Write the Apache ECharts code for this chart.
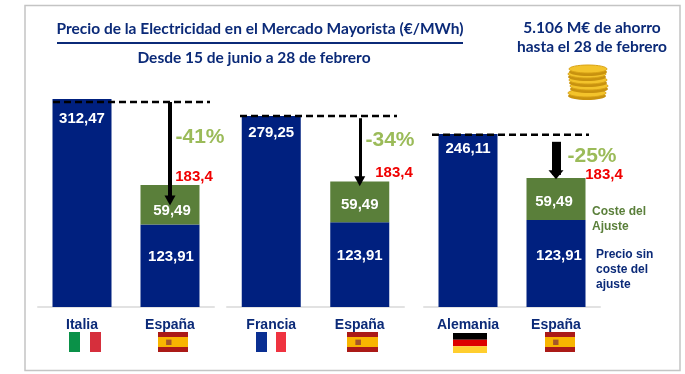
<!DOCTYPE html>
<html>
<head>
<meta charset="utf-8">
<style>
  html, body { margin: 0; padding: 0; background: #fff; }
  #chart { width: 685px; height: 374px; }
</style>
<script src="https://cdn.jsdelivr.net/npm/echarts@6/dist/echarts.min.js"></script>
</head>
<body>
<div id="chart"></div>
<script>
// datos
const paises = ['Italia', 'Francia', 'Alemania']
const preciosPais = [312.47, 279.25, 246.11]
const espanaSinAjuste = 123.91
const espanaAjuste = 59.49
const espanaTotal = '183,4'
const ahorros = ['-41%', '-34%', '-25%']
const nivelDiscontinua = [308, 279.25, 245]
const flechaDesde = [308, 276, 235]
const flechaHasta = [160, 184, 188]

const NAVY = '#00207f'
const TEXT_NAVY = '#0b2a78'
const GREEN = '#5a7f3a'
const SANS = '"Liberation Sans", Arial, sans-serif'
const TITLE = 'Lato, "Open Sans", sans-serif'

// posicion de cada panel
const paneles = [
  { left: 38, width: 176, top: 99, dash: [53, 210], arrowW: 4, head: [11, 10], pctX: 200, pctY: 137, redX: 194, redY: 177, topDist: 12, verdeOff: [2, 6], azulOff: [1, -9] },
  { left: 227, width: 177, top: 116, dash: [240, 397], arrowW: 3, head: [11, 10], pctX: 390, pctY: 140, redX: 394, redY: 173, topDist: 9, verdeOff: [0, 3], azulOff: [0, -9] },
  { left: 424, width: 176, top: 134, dash: [432, 589], arrowW: 9, head: [15, 9], pctX: 592, pctY: 156, redX: 604, redY: 175, topDist: 7, verdeOff: [-2, 3], azulOff: [3, -8] }
]
const BASE_Y = 307

const fmt = v => String(v).replace('.', ',')
const chart = echarts.init(document.getElementById('chart'))

const grids = []
const xAxes = []
const yAxes = []
const series = []
paneles.forEach((p, i) => {
  grids.push({ left: p.left, width: p.width, top: p.top, height: BASE_Y - p.top })
  xAxes.push({
    gridIndex: i,
    type: 'category',
    data: [paises[i], 'España'],
    axisTick: { show: false },
    axisLine: { lineStyle: { color: '#e2e2e2', width: 2 }},
    axisLabel: { margin: 11, color: TEXT_NAVY, fontFamily: SANS, fontWeight: 'bold', fontSize: 14 }
  })
  yAxes.push({ gridIndex: i, type: 'value', min: 0, max: preciosPais[i], show: false })
  series.push({
    type: 'bar',
    xAxisIndex: i,
    yAxisIndex: i,
    stack: 'p' + i,
    barWidth: 59,
    silent: true,
    itemStyle: { color: NAVY },
    label: { show: true, color: '#fff', fontFamily: SANS, fontWeight: 'bold', fontSize: 15, formatter: o => fmt(o.value) },
    data: [
      { value: preciosPais[i], label: { position: 'insideTop', distance: p.topDist }},
      { value: espanaSinAjuste, label: { position: 'inside', offset: p.azulOff }}
    ]
  })
  series.push({
    type: 'bar',
    xAxisIndex: i,
    yAxisIndex: i,
    stack: 'p' + i,
    barWidth: 59,
    silent: true,
    itemStyle: { color: GREEN },
    label: { show: true, position: 'inside', offset: p.verdeOff, color: '#fff', fontFamily: SANS, fontWeight: 'bold', fontSize: 15, formatter: o => fmt(o.value) },
    data: [null, espanaAjuste],
    markLine: {
      silent: true,
      z: 5,
      symbol: ['none', 'triangle'],
      symbolSize: p.head,
      label: { show: false },
      lineStyle: { color: '#000', type: 'solid', width: p.arrowW },
      data: [[
        { coord: ['España', flechaDesde[i]] },
        { coord: ['España', flechaHasta[i]] }
      ]]
    }
  })
})

const tituloStyle = { color: TEXT_NAVY, fontFamily: TITLE, fontWeight: 'bold', fontSize: 15.5 }
chart.setOption({
  animation: false,
  backgroundColor: '#fff',
  title: [
    { text: 'Precio de la Electricidad en el Mercado Mayorista (€/MWh)', left: 260, top: 21, padding: 0, textAlign: 'center', textStyle: tituloStyle },
    { text: 'Desde 15 de junio a 28 de febrero', left: 254, top: 50, padding: 0, textAlign: 'center', textStyle: tituloStyle },
    { text: '5.106 M€ de ahorro', left: 592, top: 20, padding: 0, textAlign: 'center', textStyle: tituloStyle },
    { text: 'hasta el 28 de febrero', left: 592, top: 39, padding: 0, textAlign: 'center', textStyle: tituloStyle }
  ],
  grid: grids,
  xAxis: xAxes,
  yAxis: yAxes,
  series: series
})

// ---- anotaciones ----
function rect(x, y, w, h, fill) {
  return { type: 'rect', silent: true, shape: { x: x, y: y, width: w, height: h }, style: { fill: fill }}
}
function label(x, y, text, color, size, bold, align) {
  return {
    type: 'text',
    silent: true,
    z: 10,
    x: x,
    y: y,
    style: { text: text, fill: color, font: (bold ? 'bold ' : '') + size + 'px ' + SANS, align: align || 'center', verticalAlign: 'middle' }
  }
}
function banderaEspana(x, y, w, h) {
  return [
    rect(x, y, w, h, '#ab1a17'),
    rect(x, y + h * 0.25, w, h * 0.5, '#f8b500'),
    rect(x + w * 0.27, y + h * 0.38, w * 0.18, h * 0.27, '#a4562a')
  ]
}
function tresBandas(x, y, w, h, a, b, c) {
  return [rect(x, y, w, h / 3, a), rect(x, y + h / 3, w, h / 3, b), rect(x, y + h * 2 / 3, w, h / 3, c)]
}
function moneda(cx, cy) {
  return [
    { type: 'ellipse', silent: true, shape: { cx: cx, cy: cy + 3, rx: 19, ry: 4 }, style: { fill: '#c8920f' }},
    { type: 'ellipse', silent: true, shape: { cx: cx, cy: cy, rx: 19, ry: 4 }, style: { fill: '#f3c32b', stroke: '#d9a316', lineWidth: 1 }}
  ]
}

const extras = []
// marco
extras.push({ type: 'rect', silent: true, z: -1, shape: { x: 25, y: 5.5, width: 655, height: 365 }, style: { fill: 'none', stroke: '#c4c4c4', lineWidth: 1.5 }})
// linea bajo el titulo
extras.push(rect(57, 42, 406, 2, TEXT_NAVY))
// monedas
const monedasY = [93, 86, 80, 74, 69]
const monedasX = [587, 589, 588, 587, 588]
monedasY.forEach((y, i) => { extras.push(...moneda(monedasX[i], y)) })

paneles.forEach((p, i) => {
  const y = chart.convertToPixel({ yAxisIndex: i }, nivelDiscontinua[i])
  extras.push({
    type: 'line',
    silent: true,
    z: 6,
    shape: { x1: p.dash[0], y1: y, x2: p.dash[1], y2: y },
    style: { stroke: '#000', lineWidth: 2.5, lineDash: [7, 4] }
  })
  extras.push(label(p.pctX, p.pctY, ahorros[i], '#9bbb59', 21, true))
  extras.push(label(p.redX, p.redY, espanaTotal, '#f00000', 15, true))
})

// leyenda escrita a la derecha
extras.push(label(592, 212, 'Coste del', GREEN, 12, true, 'left'))
extras.push(label(592, 227, 'Ajuste', GREEN, 12, true, 'left'))
extras.push(label(596, 255, 'Precio sin', TEXT_NAVY, 12, true, 'left'))
extras.push(label(596, 270, 'coste del', TEXT_NAVY, 12, true, 'left'))
extras.push(label(596, 285, 'ajuste', TEXT_NAVY, 12, true, 'left'))

// banderas
extras.push(rect(69, 332, 11, 20, '#0a9148'), rect(90, 332, 11, 20, '#d62f3c'))
extras.push(rect(256, 332, 11, 20, '#0a2f92'), rect(276, 332, 10, 20, '#ef3340'))
extras.push(...tresBandas(453, 333, 34, 20, '#000', '#dd0000', '#ffce2e'))
extras.push(...banderaEspana(158, 332, 30, 20))
extras.push(...banderaEspana(347, 332, 31, 20))
extras.push(...banderaEspana(545, 332, 30, 20))

chart.setOption({ graphic: { elements: extras }})
</script>
</body>
</html>
